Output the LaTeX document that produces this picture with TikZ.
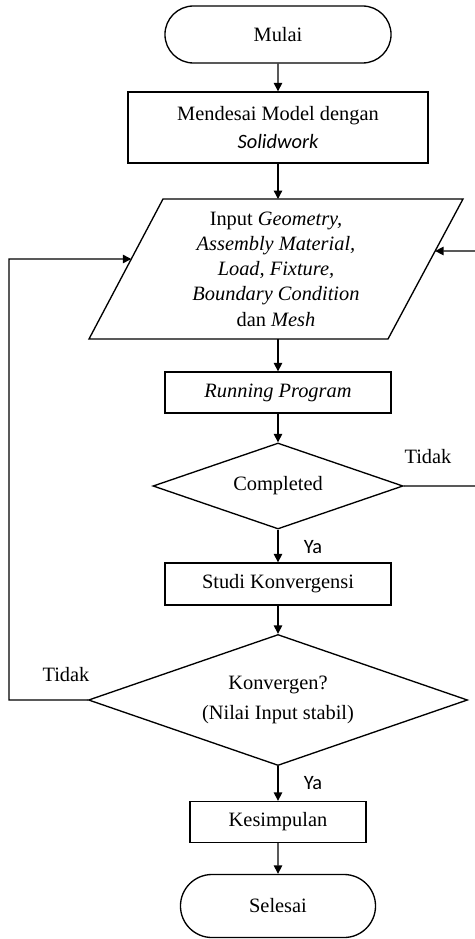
\documentclass[tikz,border=0pt]{standalone}
\usepackage{fontspec}
\setmainfont{Liberation Serif}
\newfontfamily\calfont{Carlito}
\usetikzlibrary{shapes.geometric,shapes.misc,arrows.meta,calc}

\begin{document}
\begin{tikzpicture}[x=0.025cm,y=-0.025cm,line width=0.95pt,
    font=\fontsize{14.5}{18}\selectfont,
    term/.style={draw,rounded rectangle,inner sep=0pt},
    proc/.style={draw,rectangle,align=center,inner sep=0pt},
    cond/.style={draw,diamond,aspect=2.9,align=center,inner sep=0pt},
    arr/.style={-{Triangle[length=6pt,width=6pt]}},
    lbl/.style={inner sep=0pt}]
  \useasboundingbox (0,0) rectangle (474,939);
  % blocks
  \node[term,minimum width=5.65cm,minimum height=1.425cm] (start) at (278,34.5) {Mulai};
  \node[proc,minimum width=7.5cm,minimum height=1.775cm] (model) at (278,127.5)
    {Mendesai Model dengan\\[2pt]{\calfont\itshape Solidwork}};
  % input (parallelogram)
  \coordinate (ptl) at (163,199);
  \coordinate (ptr) at (463,199);
  \coordinate (pbr) at (388,339);
  \coordinate (pbl) at (89,339);
  \draw (ptl) -- (ptr) -- (pbr) -- (pbl) -- cycle;
  \node[align=center] (inp) at (276,269)
    {Input \textit{Geometry,}\\\textit{Assembly Material,}\\\textit{Load, Fixture,}\\
     \textit{Boundary Condition}\\dan \textit{Mesh}};
  \coordinate (inpN) at (278,199);
  \coordinate (inpS) at (278,339);
  \coordinate (inpL) at ($(ptl)!0.4286!(pbl)$);
  \coordinate (inpR) at ($(ptr)!0.3714!(pbr)$);
  \node[proc,minimum width=5.65cm,minimum height=1.025cm] (run) at (278,392.5)
    {\textit{Running Program}};
  \node[cond,minimum width=6.25cm,minimum height=2.15cm] (comp) at (278,486) {Completed};
  \node[proc,minimum width=5.65cm,minimum height=1.05cm] (studi) at (278,584) {Studi Konvergensi};
  \node[cond,minimum width=9.475cm,minimum height=3.275cm] (konv) at (278,700)
    {Konvergen?\\[3pt](Nilai Input stabil)};
  \node[proc,minimum width=4.4cm,minimum height=1.025cm] (kes) at (278,822) {Kesimpulan};
  \node[term,minimum width=4.875cm,minimum height=1.575cm] (end) at (278,906) {Selesai};
  % labels
  \node[lbl] (tidak1) at (428,457) {Tidak};
  \node[lbl] (ya1) at (313,547) {\calfont Ya};
  \node[lbl] (tidak2) at (66,675) {Tidak};
  \node[lbl] (ya2) at (313,783) {\calfont Ya};
  % loop points
  \coordinate (loopL) at (9,259);
  \coordinate (loopR) at (477,251);
  % arrows
  \draw[arr] (start) -- (model);
  \draw[arr] (model) -- (inpN);
  \draw[arr] (inpS) -- (run);
  \draw[arr] (run) -- (comp);
  \draw[arr] (comp) -- (studi);
  \draw[arr] (studi) -- (konv);
  \draw[arr] (konv) -- (kes);
  \draw[arr] (kes) -- (end);
  \draw[arr] (konv.west) -| (loopL) -- (inpL);
  \draw[arr] (comp.east) -| (loopR) -- (inpR);
\end{tikzpicture}
\end{document}
